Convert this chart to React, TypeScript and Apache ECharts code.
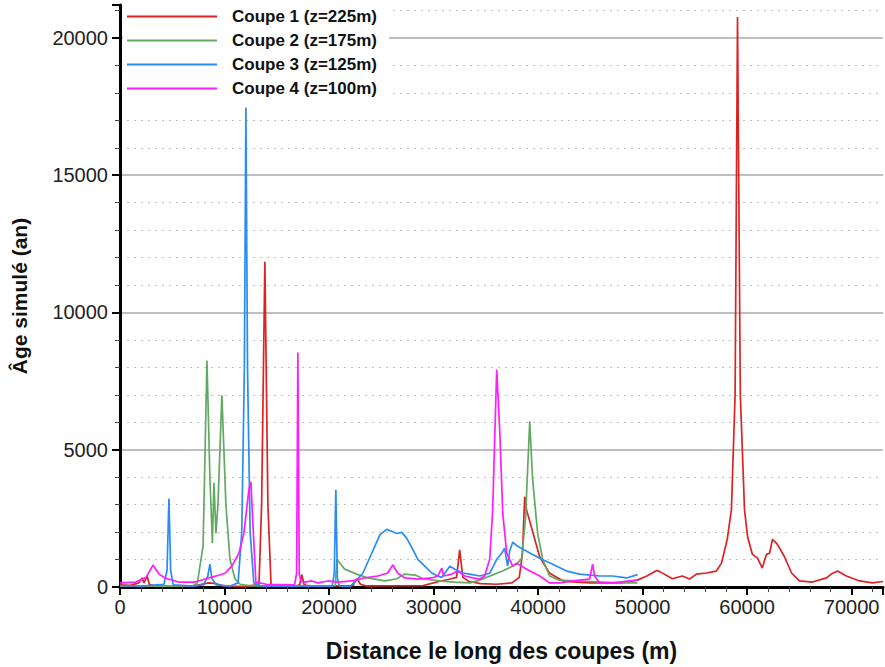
import React, { useEffect, useRef } from "react";
import * as echarts from "echarts";

const seriesNames = ["Coupe 1 (z=225m)", "Coupe 2 (z=175m)", "Coupe 3 (z=125m)", "Coupe 4 (z=100m)"];
const seriesColors = ["#dc2323", "#62aa62", "#2a8cf2", "#ff1cff"];

const xTicks = [0, 10000, 20000, 30000, 40000, 50000, 60000, 70000];
const yTicks = [0, 5000, 10000, 15000, 20000];

const coupe1: [number, number][] = [
  [0, 80], [1000, 60], [1800, 150], [2100, 330], [2300, 150], [2600, 400], [2800, 100], [3200, 50],
  [5000, 20], [7000, 30], [8500, 150], [9200, 120], [10000, 30], [12000, 20], [13300, 100],
  [13550, 3000], [13860, 11850], [14150, 3000], [14450, 100], [14700, 40], [16900, 20], [17200, 100],
  [17400, 450], [17600, 100], [18000, 30], [22300, 50], [22500, 250], [22700, 300], [23000, 100],
  [23500, 40], [29000, 50], [30500, 200], [31700, 300], [32200, 350], [32500, 1350], [32800, 350],
  [33400, 200], [34500, 120], [36000, 100], [37500, 150], [38200, 350], [38500, 1200], [38720, 3290],
  [38900, 2800], [39200, 2400], [40150, 1100], [41100, 500], [42500, 200], [45000, 150], [48000, 150],
  [49500, 250], [50400, 400], [51350, 600], [51650, 560], [52850, 300], [53800, 400], [54500, 290],
  [55150, 470], [56100, 510], [57050, 580], [57550, 870], [58100, 1740], [58500, 2820], [58850, 7000],
  [59080, 20760], [59350, 7000], [59750, 2820], [60040, 1840], [60500, 1190], [61000, 1050],
  [61450, 690], [61850, 1190], [62150, 1230], [62430, 1740], [62900, 1550], [63550, 1120], [64250, 510],
  [65000, 220], [66250, 180], [67600, 330], [68050, 470], [68650, 580], [69500, 400], [70750, 220],
  [72000, 150], [73000, 200],
];

const coupe2: [number, number][] = [
  [0, 30], [5000, 30], [7000, 50], [7400, 150], [7950, 1500], [8320, 8250], [8600, 4000], [8840, 1600],
  [8990, 3800], [9180, 1950], [9370, 3000], [9750, 6980], [10130, 3000], [10520, 1000], [11000, 300],
  [11500, 100], [12500, 40], [20600, 50], [20750, 1010], [21500, 650], [22650, 470], [23700, 330],
  [25350, 220], [26500, 300], [27200, 470], [28300, 430], [29000, 300], [30500, 220], [32000, 180],
  [33500, 150], [34400, 250], [35400, 400], [36600, 580], [37950, 830], [38430, 1050], [38800, 2500],
  [39200, 6040], [39480, 3900], [39960, 1950], [40440, 1010], [41100, 400], [42000, 250], [45000, 200],
  [48000, 150], [49500, 150],
];

const coupe3: [number, number][] = [
  [0, 50], [2000, 30], [4200, 100], [4500, 600], [4680, 3220], [4850, 600], [5100, 80], [7000, 30],
  [8000, 80], [8400, 400], [8600, 830], [8800, 300], [9200, 80], [10500, 30], [11300, 150],
  [11650, 2000], [11900, 8000], [12046, 17470], [12200, 8000], [12450, 2000], [12800, 150], [13500, 30],
  [20300, 30], [20500, 500], [20650, 3540], [20800, 300], [21000, 30], [22000, 20], [22460, 180],
  [23230, 500], [24090, 1230], [24860, 1900], [25520, 2100], [26000, 2030], [26480, 1950],
  [26960, 1990], [27440, 1770], [28010, 1370], [28490, 1010], [29160, 760], [29830, 510], [30400, 400],
  [30780, 350], [31550, 760], [32030, 650], [32790, 510], [33460, 470], [34420, 400], [35370, 500],
  [36040, 1010], [36520, 1230], [36800, 1410], [37090, 760], [37280, 1300], [37570, 1630],
  [38050, 1480], [38910, 1300], [40150, 1050], [41400, 830], [42730, 580], [43980, 470], [45890, 400],
  [47130, 400], [48470, 330], [49520, 450],
];

const coupe4: [number, number][] = [
  [0, 150], [1500, 180], [2500, 350], [3150, 800], [3730, 470], [4300, 330], [5600, 180], [7170, 180],
  [8500, 330], [9460, 430], [10040, 500], [10700, 760], [11380, 1230], [11850, 1950], [12330, 3540],
  [12520, 3830], [12810, 1590], [13000, 180], [14000, 100], [16700, 80], [16900, 500], [17017, 8540],
  [17150, 500], [17300, 200], [17690, 180], [18350, 220], [18930, 150], [19890, 220], [20840, 180],
  [22180, 220], [23420, 330], [24670, 400], [25620, 510], [26100, 800], [26580, 500], [27250, 330],
  [28490, 290], [29830, 330], [30400, 400], [30780, 690], [30970, 400], [31740, 470], [32310, 580],
  [32980, 400], [33750, 330], [34420, 290], [34890, 400], [35370, 1010], [35660, 2820], [36040, 7920],
  [36330, 5710], [36620, 2680], [37000, 1230], [37570, 760], [37950, 870], [38910, 650], [40150, 400],
  [41100, 150], [42060, 150], [43300, 220], [44930, 290], [45220, 830], [45410, 400], [45890, 150],
  [47130, 150], [48760, 220], [49500, 250],
];

const allData = [coupe1, coupe2, coupe3, coupe4];

export default function App() {
  const ref = useRef<HTMLDivElement>(null);
  useEffect(() => {
    if (!ref.current) return;
    const chart = echarts.init(ref.current, null, { renderer: "svg" });
    const font = "'Liberation Sans', Arial, sans-serif";
    const fmtX = (v: number) => (xTicks.indexOf(v) >= 0 ? String(v) : "");
    const fmtY = (v: number) => (yTicks.indexOf(v) >= 0 ? String(v) : "");
    chart.setOption({
      animation: false,
      backgroundColor: "#ffffff",
      textStyle: { fontFamily: font },
      grid: { left: 120, right: 2, top: 5, bottom: 76, containLabel: false },
      legend: {
        orient: "vertical",
        left: 123,
        top: 5,
        padding: [3, 12, 3, 4],
        backgroundColor: "#ffffff",
        icon: "rect",
        itemWidth: 90,
        itemHeight: 2,
        itemGap: 7,
        textStyle: { fontSize: 17, fontWeight: "bold", color: "#111", fontFamily: font, padding: [0, 0, 0, 10] },
        data: seriesNames,
      },
      xAxis: {
        type: "value",
        min: 0,
        max: 73000,
        interval: 10000,
        name: "Distance le long des coupes (m)",
        nameLocation: "middle",
        nameGap: 52,
        nameTextStyle: { fontSize: 23, fontWeight: "bold", color: "#111", fontFamily: font },
        axisLine: { show: true, onZero: false, lineStyle: { color: "#000", width: 3 } },
        axisTick: { show: true, length: 8, lineStyle: { color: "#000", width: 2 } },
        minorTick: { show: true, splitNumber: 5, length: 5, lineStyle: { color: "#444", width: 1 } },
        axisLabel: { formatter: fmtX, showMaxLabel: false, fontSize: 20, color: "#222", margin: 10, fontFamily: font },
        splitLine: { show: false },
        minorSplitLine: { show: false },
      },
      yAxis: {
        type: "value",
        min: 0,
        max: 21200,
        interval: 5000,
        name: "Âge simulé (an)",
        nameLocation: "middle",
        nameGap: 90,
        nameTextStyle: { fontSize: 21, fontWeight: "bold", color: "#111", fontFamily: font },
        axisLine: { show: true, onZero: false, lineStyle: { color: "#000", width: 3 } },
        axisTick: { show: true, length: 8, lineStyle: { color: "#000", width: 2 } },
        minorTick: { show: true, splitNumber: 5, length: 5, lineStyle: { color: "#444", width: 1 } },
        axisLabel: { formatter: fmtY, showMaxLabel: false, fontSize: 20, color: "#222", margin: 12, fontFamily: font },
        splitLine: { show: true, showMaxLine: false, lineStyle: { color: "#aaaaaa", width: 1.5 } },
        minorSplitLine: { show: true, lineStyle: { color: "#c2c2c2", width: 1, type: [2, 5] } },
      },
      series: allData.map((d, i) => ({
        name: seriesNames[i],
        type: "line",
        data: d,
        showSymbol: false,
        symbol: "none",
        smooth: false,
        lineStyle: { color: seriesColors[i], width: 1.7 },
        itemStyle: { color: seriesColors[i] },
        z: 2 + i,
      })),
    });
    return () => chart.dispose();
  }, []);
  return <div ref={ref} style={{ position: "fixed", left: 0, top: 0, width: 885, height: 667 }} />;
}
